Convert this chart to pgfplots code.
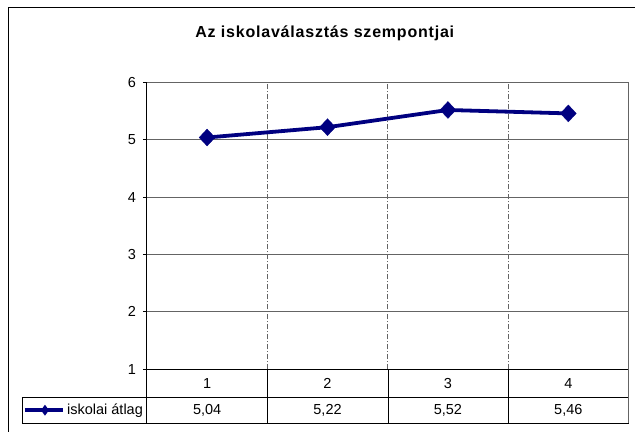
\documentclass[border=0pt]{standalone}
\usepackage{fontspec}
\setmainfont{Liberation Sans}
\usepackage{pgfplots}
\pgfplotsset{compat=1.18}
\definecolor{navy}{RGB}{0,0,128}
\definecolor{gridc}{RGB}{100,100,100}

\begin{document}
\fontsize{14.5pt}{17pt}\selectfont
\begin{tikzpicture}
% canvas and outer frame
\path (0,0) rectangle (635pt,-432pt);
\draw[black, line width=0.9pt] (8pt,-432pt) -- (8pt,-7pt) -- (635pt,-7pt);

\node[font=\fontsize{16pt}{19pt}\selectfont\bfseries\addfontfeature{LetterSpace=5}] at (325pt,-33pt) {Az iskolaválasztás szempontjai};

\begin{axis}[
    scale only axis,
    width=482pt, height=287pt,
    at={(147pt,-369.5pt)}, anchor=south west,
    xmin=0.5, xmax=4.5,
    ymin=1, ymax=6,
    axis lines=left,
    axis line style={-, black, line width=0.9pt},
    xtick={1.5,2.5,3.5},
    xticklabels={},
    x tick style={draw=none},
    ytick={1,2,3,4,5,6},
    y tick style={black, line width=0.9pt},
    tick align=outside,
    major tick length=4pt,
    ymajorgrids=true, xmajorgrids=true,
    y grid style={gridc, line width=0.9pt},
    x grid style={gridc, line width=0.9pt, dash pattern=on 5pt off 2pt on 1pt off 2pt},
    /pgf/number format/assume math mode=true,
    yticklabel style={font=\fontsize{14.5pt}{17pt}\selectfont, xshift=-2pt},
    clip=false,
]
\draw[gridc, line width=0.9pt] (rel axis cs:1,0) -- (rel axis cs:1,1);
\addplot[color=navy, line width=3.8pt, mark=diamond*,
    mark options={solid, line width=0.3pt, xscale=1.25},
    mark size=8.5pt]
    coordinates {(1,5.04)(2,5.22)(3,5.52)(4,5.46)};
\end{axis}

% data table
\begin{scope}[line width=0.9pt, black]
\draw (147pt,-369.5pt) -- (629pt,-369.5pt);
\draw (22pt,-397.5pt) -- (629pt,-397.5pt);
\draw (22pt,-423.5pt) -- (629pt,-423.5pt);
\draw (22pt,-397.5pt) -- (22pt,-423.5pt);
\foreach \xx in {147,268,388.5,509}
  \draw (\xx pt,-369.5pt) -- (\xx pt,-423.5pt);
\draw[gridc] (629pt,-369.5pt) -- (629pt,-423.5pt);
\end{scope}
\foreach \c/\lab/\val in {1/1/{5,04},2/2/{5,22},3/3/{5,52},4/4/{5,46}} {
  \node at ({147pt+(\c-0.5)*120.5pt},-383.5pt) {\lab};
  \node at ({147pt+(\c-0.5)*120.5pt},-410.5pt) {\val};
}
% legend key
\draw[navy, line width=3.6pt] (25pt,-410.5pt) -- (63pt,-410.5pt);
\fill[navy] (45pt,-405pt) -- (49pt,-410.5pt) -- (45pt,-416pt) -- (41pt,-410.5pt) -- cycle;
\node[anchor=west, inner sep=0pt] at (67pt,-410.5pt) {iskolai átlag};
\end{tikzpicture}
\end{document}
